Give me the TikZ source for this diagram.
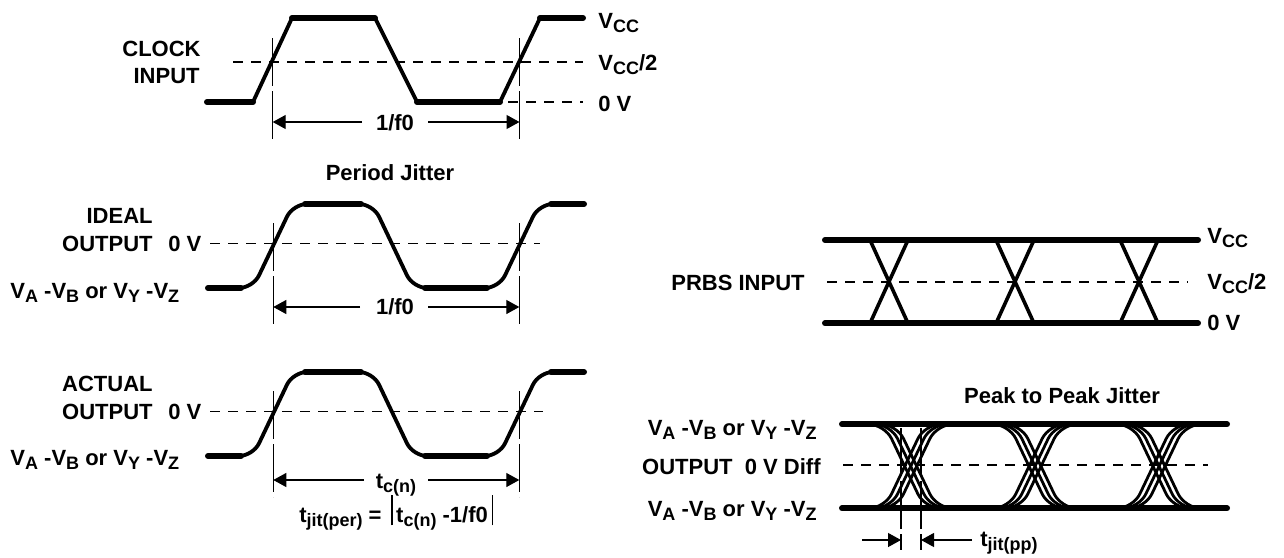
\documentclass[tikz,border=0pt]{standalone}
\usepackage{fontspec}
\setmainfont{Liberation Sans}
\usetikzlibrary{arrows.meta}
\newcommand{\lsub}[1]{\raisebox{-0.4ex}{\fontsize{9}{9}\selectfont #1}}
\newcommand{\tallbar}{\raisebox{-0.3ex}{\rule{0.6pt}{2.6ex}}}
\begin{document}
\begin{tikzpicture}[x=0.5pt,y=-0.5pt,
  lbl/.style={inner sep=0pt, font=\fontsize{11}{13.5}\selectfont\bfseries},
  lblL/.style={lbl, anchor=base west},
  lblR/.style={lbl, anchor=base east},
  lblC/.style={lbl, anchor=base},
  wave/.style={line width=1.9pt, line join=round, line cap=round},
  flat/.style={line width=3pt, line cap=round},
  xline/.style={line width=1.8pt},
  eyec/.style={line width=1.4pt, rounded corners=8pt},
  refline/.style={line width=0.8pt, dash pattern=on 5pt off 4pt},
  vguide/.style={line width=0.6pt, dash pattern=on 24pt off 2.5pt},
  dim/.style={line width=0.6pt, -{Triangle[length=6.5pt,width=7pt]}},
]
\useasboundingbox (0,0) rectangle (1284,557);

% ---------------- CLOCK INPUT ----------------
\node[lblR] (clkA) at (201,56) {CLOCK};
\node[lblR] (clkB) at (200,83) {INPUT};
\node[lblL] (vccA) at (598,28) {V\lsub{CC}};
\node[lblL] (vcchA) at (598,70) {V\lsub{CC}/2};
\node[lblL] (zeroA) at (598,111) {0 V};
\draw[refline] (233,62) -- (583,62);
\draw[refline] (508,102) -- (583,102);
\coordinate (gA1t) at (272.7,38); \coordinate (gA1b) at (272.7,140);
\coordinate (gA2t) at (519.5,38); \coordinate (gA2b) at (519.5,140);
\draw[vguide] (gA1t) -- (gA1b);
\draw[vguide] (gA2t) -- (gA2b);
\draw[wave] (207,102) -- (253,102) -- (292,18) -- (375,18) -- (417,102) -- (500,102) -- (540,18) -- (583,18);
\draw[flat] (207,102) -- (253,102) (292,18) -- (375,18) (417,102) -- (500,102) (540,18) -- (583,18);
\node[lblC] (fA) at (395,130) {1/f0};
\coordinate (aA1s) at (362,122); \coordinate (aA1) at (272.7,122);
\coordinate (aA2s) at (428,122); \coordinate (aA2) at (519.5,122);
\draw[dim] (aA1s) -- (aA1);
\draw[dim] (aA2s) -- (aA2);

% ---------------- IDEAL OUTPUT ----------------
\node[lblC] (pj) at (390,180) {Period Jitter};
\node[lblR] (idA) at (153,223) {IDEAL};
\node[lblR] (idB) at (153,251) {OUTPUT};
\node[lblL] (idZ) at (168,251) {0 V};
\node[lblL] (idV) at (10,298) {V\lsub{A} -V\lsub{B} or V\lsub{Y} -V\lsub{Z}};
\draw[refline] (210,243.3) -- (540,243.3);
\coordinate (gB1t) at (273.3,223); \coordinate (gB1b) at (273.3,327);
\coordinate (gB2t) at (519.3,223); \coordinate (gB2b) at (519.3,327);
\draw[vguide] (gB1t) -- (gB1b);
\draw[vguide] (gB2t) -- (gB2b);
\draw[wave, rounded corners=7pt] (208,288) -- (253,288) -- (293,204) -- (373,204) -- (413,288) -- (499,288) -- (539,204) -- (584,204);
\draw[flat] (208,288) -- (241,288) (305,204) -- (361,204) (425,288) -- (487,288) (551,204) -- (584,204);
\node[lblC] (fB) at (395,314) {1/f0};
\coordinate (aB1s) at (360,307); \coordinate (aB1) at (273.3,307);
\coordinate (aB2s) at (428,307); \coordinate (aB2) at (519.3,307);
\draw[dim] (aB1s) -- (aB1);
\draw[dim] (aB2s) -- (aB2);

% ---------------- ACTUAL OUTPUT ----------------
\node[lblR] (acA) at (153,391) {ACTUAL};
\node[lblR] (acB) at (153,419) {OUTPUT};
\node[lblL] (acZ) at (168,419) {0 V};
\node[lblL] (acV) at (10,465) {V\lsub{A} -V\lsub{B} or V\lsub{Y} -V\lsub{Z}};
\draw[refline] (210,411.3) -- (543,411.3);
\coordinate (gC1t) at (273.3,391); \coordinate (gC1b) at (273.3,497);
\coordinate (gC2t) at (519.3,391); \coordinate (gC2b) at (519.3,497);
\draw[vguide] (gC1t) -- (gC1b);
\draw[vguide] (gC2t) -- (gC2b);
\draw[wave, rounded corners=7pt] (208,456) -- (253,456) -- (293,372) -- (373,372) -- (413,456) -- (499,456) -- (539,372) -- (584,372);
\draw[flat] (208,456) -- (241,456) (305,372) -- (361,372) (425,456) -- (487,456) (551,372) -- (584,372);
\node[lblC] (tc) at (396,488) {t\lsub{c(n)}};
\coordinate (aC1s) at (364,480); \coordinate (aC1) at (273.3,480);
\coordinate (aC2s) at (428,480); \coordinate (aC2) at (519.3,480);
\draw[dim] (aC1s) -- (aC1);
\draw[dim] (aC2s) -- (aC2);
\node[lblC] (formula) at (396,522) {t\lsub{jit(per)} = \,\tallbar\,t\lsub{c(n)} -1/f0\,\tallbar};

% ---------------- PRBS INPUT ----------------
\node[lblR] (prbs) at (805,290) {PRBS INPUT};
\node[lblL] (vccD) at (1207,243) {V\lsub{CC}};
\node[lblL] (vcchD) at (1207,289) {V\lsub{CC}/2};
\node[lblL] (zeroD) at (1207,330) {0 V};
\draw[refline] (827,281.7) -- (1188,281.7);
\foreach \c in {889,1015,1139} {
  \draw[xline] ({\c-19},240) -- ({\c+19},323.3);
  \draw[xline] ({\c+19},240) -- ({\c-19},323.3);
}
\draw[flat] (825,240) -- (1198,240);
\draw[flat] (825,323.3) -- (1198,323.3);

% ---------------- PEAK TO PEAK JITTER ----------------
\node[lblC] (ppj) at (1062,403) {Peak to Peak Jitter};
\node[lblR] (eyV1) at (817,435) {V\lsub{A} -V\lsub{B} or V\lsub{Y} -V\lsub{Z}};
\node[lblR] (eyO) at (821,474) {OUTPUT\ \ 0 V Diff};
\node[lblR] (eyV2) at (817,516) {V\lsub{A} -V\lsub{B} or V\lsub{Y} -V\lsub{Z}};
\draw[refline] (843,465) -- (1208,465);
\foreach \c in {910.7,1035,1159} {
  \foreach \o in {-6,0,6} {
    \draw[eyec] ({\c+\o-38},424.3) -- ({\c+\o-20},424.3) -- ({\c+\o+20},508.3) -- ({\c+\o+38},508.3);
    \draw[eyec] ({\c+\o-38},508.3) -- ({\c+\o-20},508.3) -- ({\c+\o+20},424.3) -- ({\c+\o+38},424.3);
  }
}
\draw[flat] (842,424.3) -- (1227,424.3);
\draw[flat] (842,508.3) -- (1227,508.3);
\coordinate (gE1t) at (901,428); \coordinate (gE1b) at (901,550);
\coordinate (gE2t) at (921,428); \coordinate (gE2b) at (921,550);
\draw[vguide] (gE1t) -- (gE1b);
\draw[vguide] (gE2t) -- (gE2b);
\coordinate (aE1s) at (862,540); \coordinate (aE1) at (901,540);
\coordinate (aE2s) at (972,540); \coordinate (aE2) at (921,540);
\draw[dim] (aE1s) -- (aE1);
\draw[dim] (aE2s) -- (aE2);
\node[lblL] (tjpp) at (980,546) {t\lsub{jit(pp)}};
\end{tikzpicture}
\end{document}
